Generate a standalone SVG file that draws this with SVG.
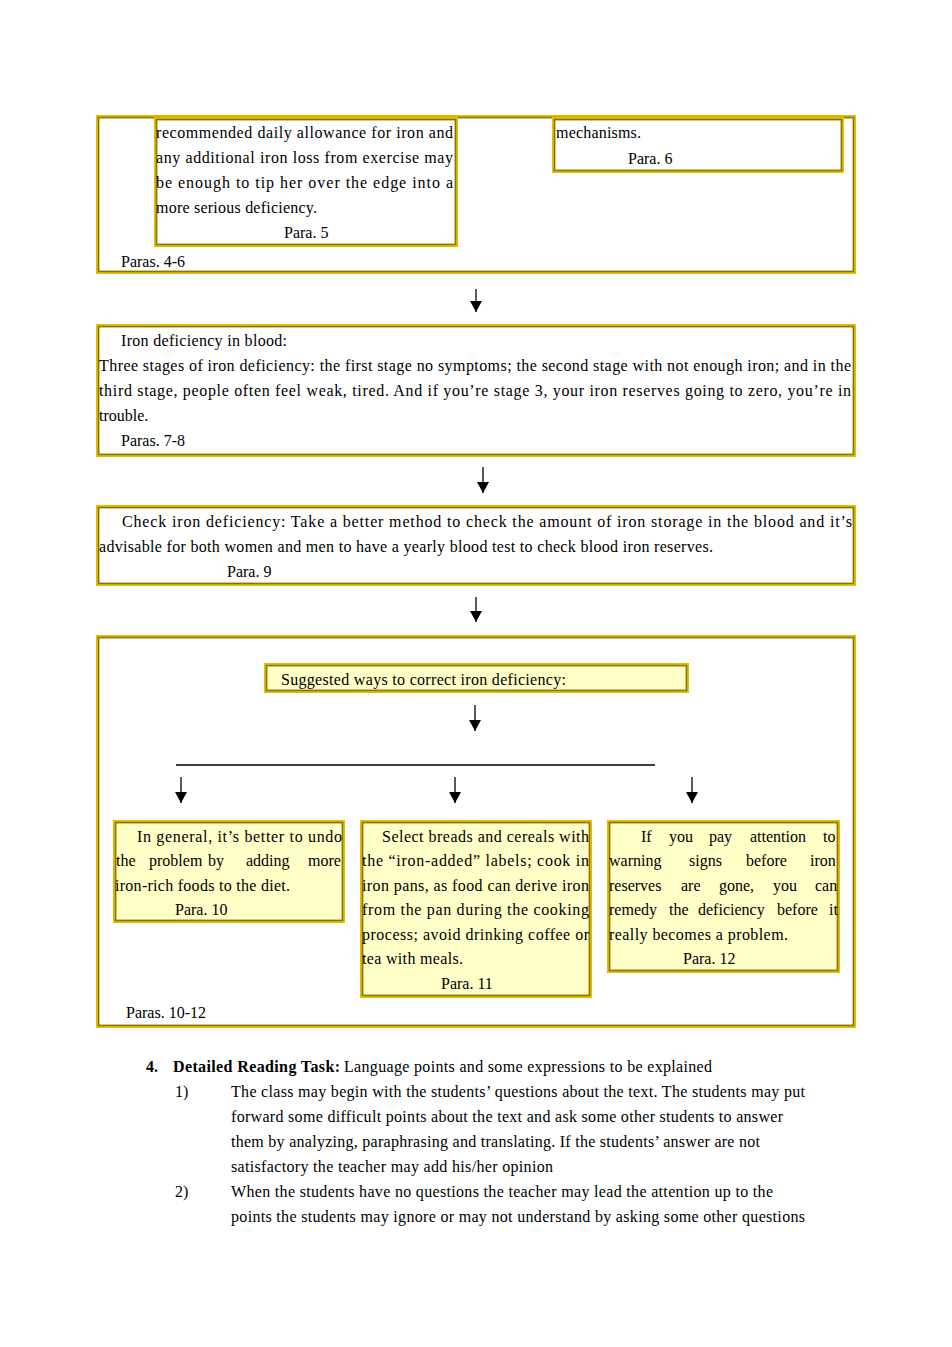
<svg xmlns="http://www.w3.org/2000/svg" width="952" height="1347" viewBox="0 0 952 1347">
<style>
text{font-family:"Liberation Serif","Times New Roman",serif;font-size:16px;fill:#000}
.o{fill:none;stroke:#E2BE00;stroke-width:2}
.i{fill:none;stroke:#8B7400;stroke-width:1.6}
.w{fill:#FFFFFF}
.y{fill:#FFFFC8}
.c{stroke:#000;stroke-width:1.3;fill:none}
.b{font-weight:bold}
</style>
<defs>
<marker id="ah" markerUnits="userSpaceOnUse" markerWidth="12" markerHeight="12" refX="11" refY="6" orient="auto">
<path d="M0,0 L11,6 L0,12 z" fill="#000"/>
</marker>
</defs>
<rect width="952" height="1347" fill="#fff"/>

<g id="box-paras-4-6">
<rect class="w" x="97" y="116" width="758" height="157"/>
<rect class="o" x="97" y="116" width="758" height="157"/>
<rect class="i" x="98.6" y="117.6" width="754.8" height="153.8"/>
<text x="121" y="267">Paras. 4-6</text>
</g>
<g id="box-para-5">
<rect class="w" x="155" y="118" width="302" height="128"/>
<rect class="o" x="155" y="118" width="302" height="128"/>
<rect class="i" x="156.6" y="119.6" width="298.8" height="124.8"/>
<text x="156" y="138" textLength="297" lengthAdjust="spacing">recommended daily allowance for iron and</text>
<text x="156" y="163" textLength="297" lengthAdjust="spacing">any additional iron loss from exercise may</text>
<text x="156" y="188" textLength="297" lengthAdjust="spacing">be enough to tip her over the edge into a</text>
<text x="156" y="213" textLength="161" lengthAdjust="spacing">more serious deficiency.</text>
<text x="284" y="238">Para. 5</text>
</g>
<g id="box-para-6">
<rect class="w" x="553" y="118" width="290" height="54"/>
<rect class="o" x="553" y="118" width="290" height="54"/>
<rect class="i" x="554.6" y="119.6" width="286.8" height="50.8"/>
<text x="556" y="138" textLength="85" lengthAdjust="spacing">mechanisms.</text>
<text x="628" y="164">Para. 6</text>
</g>

<g id="box-paras-7-8">
<rect class="o" x="97" y="325" width="758" height="131"/>
<rect class="i" x="98.6" y="326.6" width="754.8" height="127.8"/>
<text x="121" y="346" textLength="166" lengthAdjust="spacing">Iron deficiency in blood:</text>
<text x="99" y="371" textLength="752" lengthAdjust="spacing">Three stages of iron deficiency: the first stage no symptoms; the second stage with not enough iron; and in the</text>
<text x="99" y="396" textLength="752" lengthAdjust="spacing">third stage, people often feel weak, tired. And if you’re stage 3, your iron reserves going to zero, you’re in</text>
<text x="99" y="421">trouble.</text>
<text x="121" y="446">Paras. 7-8</text>
</g>

<g id="box-para-9">
<rect class="o" x="97" y="506" width="758" height="79"/>
<rect class="i" x="98.6" y="507.6" width="754.8" height="75.8"/>
<text x="122" y="527" textLength="730" lengthAdjust="spacing">Check iron deficiency: Take a better method to check the amount of iron storage in the blood and it’s</text>
<text x="99" y="552" textLength="614" lengthAdjust="spacing">advisable for both women and men to have a yearly blood test to check blood iron reserves.</text>
<text x="227" y="577">Para. 9</text>
</g>

<g id="box-paras-10-12">
<rect class="o" x="97" y="636" width="758" height="391"/>
<rect class="i" x="98.6" y="637.6" width="754.8" height="387.8"/>
<text x="126" y="1018">Paras. 10-12</text>
</g>
<g id="box-suggested">
<rect class="y" x="265" y="664" width="423" height="28"/>
<rect class="o" x="265" y="664" width="423" height="28"/>
<rect class="i" x="266.6" y="665.6" width="419.8" height="24.8"/>
<text x="281" y="685" textLength="285" lengthAdjust="spacing">Suggested ways to correct iron deficiency:</text>
</g>
<g id="box-para-10">
<rect class="y" x="114" y="821" width="230" height="101"/>
<rect class="o" x="114" y="821" width="230" height="101"/>
<rect class="i" x="115.6" y="822.6" width="226.8" height="97.8"/>
<text x="137" y="842" textLength="205" lengthAdjust="spacing">In general, it’s better to undo</text>
<text y="866"><tspan x="116">the</tspan><tspan x="149">problem</tspan><tspan x="208">by</tspan><tspan x="246">adding</tspan><tspan x="308">more</tspan></text>
<text x="115" y="891" textLength="175" lengthAdjust="spacing">iron-rich foods to the diet.</text>
<text x="175" y="915">Para. 10</text>
</g>
<g id="box-para-11">
<rect class="y" x="361" y="821" width="230" height="176"/>
<rect class="o" x="361" y="821" width="230" height="176"/>
<rect class="i" x="362.6" y="822.6" width="226.8" height="172.8"/>
<text x="382" y="842" textLength="207" lengthAdjust="spacing">Select breads and cereals with</text>
<text x="362" y="866" textLength="227" lengthAdjust="spacing">the “iron-added” labels; cook in</text>
<text x="362" y="891" textLength="227" lengthAdjust="spacing">iron pans, as food can derive iron</text>
<text x="362" y="915" textLength="227" lengthAdjust="spacing">from the pan during the cooking</text>
<text x="362" y="940" textLength="227" lengthAdjust="spacing">process; avoid drinking coffee or</text>
<text x="362" y="964" textLength="101" lengthAdjust="spacing">tea with meals.</text>
<text x="441" y="989">Para. 11</text>
</g>
<g id="box-para-12">
<rect class="y" x="608" y="821" width="231" height="151"/>
<rect class="o" x="608" y="821" width="231" height="151"/>
<rect class="i" x="609.6" y="822.6" width="227.8" height="147.8"/>
<text y="842"><tspan x="641">If</tspan><tspan x="669">you</tspan><tspan x="709">pay</tspan><tspan x="750">attention</tspan><tspan x="823">to</tspan></text>
<text y="866"><tspan x="609">warning</tspan><tspan x="689">signs</tspan><tspan x="746">before</tspan><tspan x="810">iron</tspan></text>
<text y="891"><tspan x="609">reserves</tspan><tspan x="681">are</tspan><tspan x="719">gone,</tspan><tspan x="773">you</tspan><tspan x="815">can</tspan></text>
<text y="915"><tspan x="609">remedy</tspan><tspan x="669">the</tspan><tspan x="698">deficiency</tspan><tspan x="777">before</tspan><tspan x="829">it</tspan></text>
<text x="609" y="940" textLength="179" lengthAdjust="spacing">really becomes a problem.</text>
<text x="683" y="964">Para. 12</text>
</g>

<g id="connectors">
<line class="c" x1="476" y1="289" x2="476" y2="312" marker-end="url(#ah)"/>
<line class="c" x1="483" y1="467" x2="483" y2="493" marker-end="url(#ah)"/>
<line class="c" x1="476" y1="597" x2="476" y2="622" marker-end="url(#ah)"/>
<line class="c" x1="475" y1="705" x2="475" y2="731" marker-end="url(#ah)"/>
<line class="c" x1="176" y1="765" x2="655" y2="765"/>
<line class="c" x1="181" y1="777" x2="181" y2="803" marker-end="url(#ah)"/>
<line class="c" x1="455" y1="777" x2="455" y2="803" marker-end="url(#ah)"/>
<line class="c" x1="692" y1="777" x2="692" y2="803" marker-end="url(#ah)"/>
</g>

<g id="task-text">
<text x="146" y="1072" class="b">4.</text>
<text x="173" y="1072" class="b" textLength="167" lengthAdjust="spacing">Detailed Reading Task:</text>
<text x="344" y="1072" textLength="368" lengthAdjust="spacing">Language points and some expressions to be explained</text>
<text x="175" y="1097">1)</text>
<text x="231" y="1097" textLength="574" lengthAdjust="spacing">The class may begin with the students’ questions about the text. The students may put</text>
<text x="231" y="1122" textLength="552" lengthAdjust="spacing">forward some difficult points about the text and ask some other students to answer</text>
<text x="231" y="1147" textLength="529" lengthAdjust="spacing">them by analyzing, paraphrasing and translating. If the students’ answer are not</text>
<text x="231" y="1172" textLength="322" lengthAdjust="spacing">satisfactory the teacher may add his/her opinion</text>
<text x="175" y="1197">2)</text>
<text x="231" y="1197" textLength="542" lengthAdjust="spacing">When the students have no questions the teacher may lead the attention up to the</text>
<text x="231" y="1222" textLength="574" lengthAdjust="spacing">points the students may ignore or may not understand by asking some other questions</text>
</g>
</svg>
